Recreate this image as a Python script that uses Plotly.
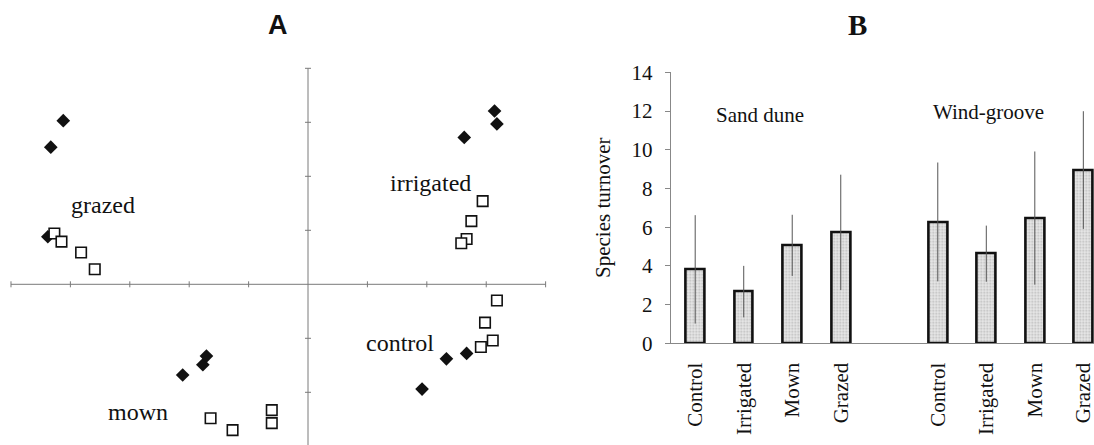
import plotly.graph_objects as go

# ---------------- Panel A data (ordination scores) ----------------
grazed_dia_x = [-4.12, -4.33, -4.38]
grazed_dia_y = [3.03, 2.54, 0.88]
grazed_sq_x = [-4.27, -4.15, -3.82, -3.59]
grazed_sq_y = [0.94, 0.79, 0.59, 0.28]

mown_dia_x = [-2.11, -1.77, -1.71]
mown_dia_y = [-1.68, -1.49, -1.33]
mown_sq_x = [-1.64, -1.27, -0.61, -0.61]
mown_sq_y = [-2.48, -2.70, -2.33, -2.57]

irrigated_dia_x = [3.14, 3.18, 2.63]
irrigated_dia_y = [3.21, 2.97, 2.72]
irrigated_sq_x = [2.94, 2.75, 2.67, 2.58]
irrigated_sq_y = [1.54, 1.17, 0.84, 0.76]

control_dia_x = [2.67, 2.33, 1.92]
control_dia_y = [-1.28, -1.38, -1.94]
control_sq_x = [3.18, 2.98, 3.11, 2.91]
control_sq_y = [-0.30, -0.71, -1.04, -1.16]

group_labels = ["grazed", "irrigated", "control", "mown"]
group_label_x = [-3.45, 2.07, 1.55, -2.86]
group_label_y = [1.47, 1.87, -1.08, -2.36]

a_xticks = [-5, -4, -3, -2, -1, 1, 2, 3, 4]
a_yticks = [-3, -2, -1, 1, 2, 3, 4]

# ---------------- Panel B data ----------------
treatments = ["Control", "Irrigated", "Mown", "Grazed"]
sand_dune_mean = [3.82, 2.67, 5.06, 5.73]
sand_dune_err = [2.80, 1.33, 1.58, 2.98]
wind_groove_mean = [6.27, 4.63, 6.47, 8.95]
wind_groove_err = [3.07, 1.45, 3.44, 3.04]
b_yticks = [0, 2, 4, 6, 8, 10, 12, 14]

sand_pos = [0, 1, 2, 3]
wind_pos = [5, 6, 7, 8]

SERIF = "Liberation Serif, Times New Roman, serif"
INK = "#111111"

fig = go.Figure()

# ---- Panel A markers ----
dia_x = grazed_dia_x + mown_dia_x + irrigated_dia_x + control_dia_x
dia_y = grazed_dia_y + mown_dia_y + irrigated_dia_y + control_dia_y
sq_x = grazed_sq_x + mown_sq_x + irrigated_sq_x + control_sq_x
sq_y = grazed_sq_y + mown_sq_y + irrigated_sq_y + control_sq_y

fig.add_trace(go.Scatter(
    x=dia_x, y=dia_y, mode="markers", xaxis="x", yaxis="y",
    marker=dict(symbol="diamond", size=10.5, color=INK, line=dict(width=0)),
    showlegend=False, hoverinfo="skip"))
fig.add_trace(go.Scatter(
    x=sq_x, y=sq_y, mode="markers", xaxis="x", yaxis="y",
    marker=dict(symbol="square", size=10.5, color="white",
                line=dict(width=1.6, color=INK)),
    showlegend=False, hoverinfo="skip"))

# ---- Panel B bars ----
bar_marker = dict(
    color="#e4e4e4",
    line=dict(color=INK, width=2.6),
    pattern=dict(shape=".", fgcolor="#8a8a8a", bgcolor="#e8e8e8",
                 size=3, solidity=0.35),
)
err_style = dict(type="data", thickness=1, width=0, color="#555555")

fig.add_trace(go.Bar(
    x=sand_pos, y=sand_dune_mean, xaxis="x2", yaxis="y2", width=0.39,
    marker=bar_marker, error_y=dict(array=sand_dune_err, **err_style),
    showlegend=False, hoverinfo="skip"))
fig.add_trace(go.Bar(
    x=wind_pos, y=wind_groove_mean, xaxis="x2", yaxis="y2", width=0.39,
    marker=bar_marker, error_y=dict(array=wind_groove_err, **err_style),
    showlegend=False, hoverinfo="skip"))

# ---- Panel A axes drawn as crossing lines with tick marks ----
AX = "#7a7a7a"
shapes = []
shapes.append(dict(type="line", xref="x", yref="y", x0=-5, x1=4, y0=0, y1=0,
                   line=dict(color=AX, width=1), layer="below"))
shapes.append(dict(type="line", xref="x", yref="y", x0=0, x1=0, y0=-3.2, y1=4,
                   line=dict(color=AX, width=1), layer="below"))
tdy = 3.0 / 54.0
tdx = 3.0 / 59.4
for t in a_xticks:
    shapes.append(dict(type="line", xref="x", yref="y", x0=t, x1=t,
                       y0=-tdy, y1=tdy, line=dict(color=AX, width=1), layer="below"))
for t in a_yticks:
    shapes.append(dict(type="line", xref="x", yref="y", x0=-tdx, x1=tdx,
                       y0=t, y1=t, line=dict(color=AX, width=1), layer="below"))

annotations = []
for lab, lx, ly in zip(group_labels, group_label_x, group_label_y):
    annotations.append(dict(text=lab, x=lx, y=ly, xref="x", yref="y",
                            showarrow=False, xanchor="center", yanchor="middle",
                            font=dict(family=SERIF, size=24, color=INK)))

# Panel titles
annotations.append(dict(text="<b>A</b>", x=278 / 1094, y=(445 - 25) / 445,
                        xref="paper", yref="paper", showarrow=False,
                        xanchor="center", yanchor="middle",
                        font=dict(family="Liberation Sans, Arial, sans-serif",
                                  size=27, color=INK)))
annotations.append(dict(text="<b>B</b>", x=857 / 1094, y=(445 - 25) / 445,
                        xref="paper", yref="paper", showarrow=False,
                        xanchor="center", yanchor="middle",
                        font=dict(family=SERIF, size=29, color=INK)))

# Panel B inner labels
annotations.append(dict(text="Sand dune", x=1.34, y=11.8, xref="x2", yref="y2",
                        showarrow=False, xanchor="center", yanchor="middle",
                        font=dict(family=SERIF, size=21, color=INK)))
annotations.append(dict(text="Wind-groove", x=6.04, y=11.96, xref="x2", yref="y2",
                        showarrow=False, xanchor="center", yanchor="middle",
                        font=dict(family=SERIF, size=21, color=INK)))
# Panel B y-axis title
annotations.append(dict(text="Species turnover", x=603 / 1094, y=(445 - 208) / 445,
                        xref="paper", yref="paper", showarrow=False,
                        textangle=-90, xanchor="center", yanchor="middle",
                        font=dict(family=SERIF, size=21, color=INK)))

fig.update_layout(
    width=1094, height=445,
    margin=dict(l=0, r=0, t=0, b=0, autoexpand=False),
    paper_bgcolor="white", plot_bgcolor="white",
    shapes=shapes, annotations=annotations,
    bargap=0,
    xaxis=dict(domain=[0, 560 / 1094], range=[-5.185, 4.242], visible=False,
               fixedrange=True, automargin=False),
    yaxis=dict(domain=[0, (445 - 50) / 445], range=[-2.976, 4.339], visible=False,
               fixedrange=True, automargin=False),
    xaxis2=dict(domain=[670.7 / 1094, 1], range=[-0.505, 8.22], anchor="y2",
                showline=True, linecolor="#888888", linewidth=1,
                showgrid=False, zeroline=False, ticks="", automargin=False,
                ticklabeloverflow="allow",
                tickvals=sand_pos + wind_pos, ticktext=treatments + treatments,
                tickangle=-90, ticklabelstandoff=10,
                tickfont=dict(family=SERIF, size=21, color=INK)),
    yaxis2=dict(domain=[(445 - 343.3) / 445, (445 - 72.3) / 445], range=[0, 14],
                anchor="x2", showline=True, linecolor="#888888", linewidth=1,
                showgrid=False, zeroline=False, ticks="outside", ticklen=5,
                automargin=False, ticklabeloverflow="allow",
                tickcolor="#888888", tickvals=b_yticks, ticklabelstandoff=8,
                tickfont=dict(family=SERIF, size=21, color=INK)),
)

fig.write_html("out.html")
